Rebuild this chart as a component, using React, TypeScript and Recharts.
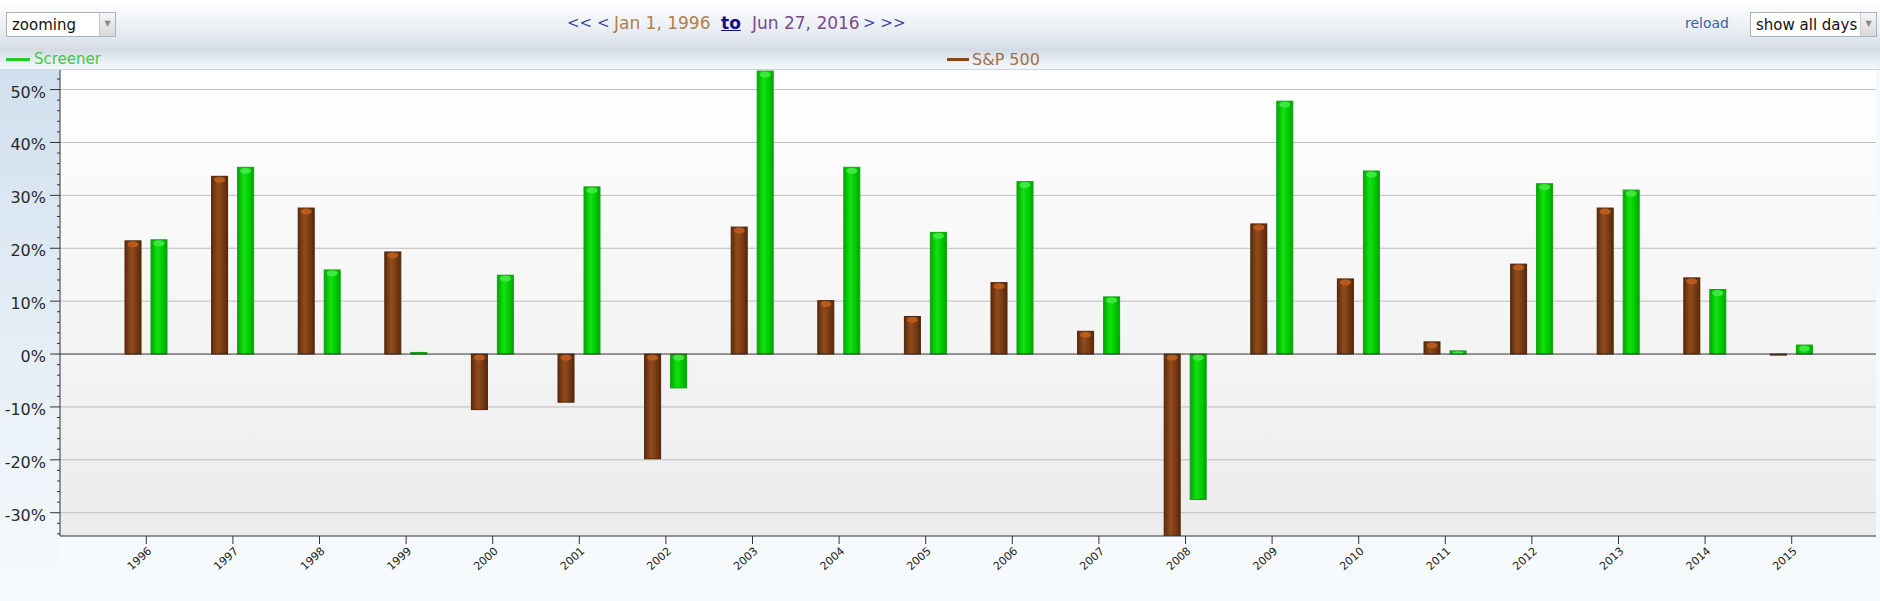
import React from 'react';
import { BarChart, Bar, XAxis, YAxis, CartesianGrid, ReferenceLine } from 'recharts';

// yearly returns in %, read off the screenshot
const years = ['1996', '1997', '1998', '1999', '2000', '2001', '2002', '2003', '2004', '2005',
  '2006', '2007', '2008', '2009', '2010', '2011', '2012', '2013', '2014', '2015'];
const sp500 = [21.4, 33.6, 27.6, 19.3, -10.5, -9.1, -19.8, 24.0, 10.1, 7.1,
  13.5, 4.3, -38.5, 24.6, 14.2, 2.3, 17.0, 27.6, 14.4, -0.2];
const screener = [21.6, 35.3, 15.9, 0.3, 14.9, 31.6, -6.4, 53.5, 35.3, 23.0,
  32.6, 10.8, -27.5, 47.8, 34.6, 0.6, 32.2, 31.0, 12.2, 1.7];

const yTicks = [-34, -32, -30, -28, -26, -24, -22, -20, -18, -16, -14, -12, -10, -8, -6, -4, -2,
  0, 2, 4, 6, 8, 10, 12, 14, 16, 18, 20, 22, 24, 26, 28, 30, 32, 34, 36, 38, 40, 42, 44, 46, 48, 50, 52];
const gridValues = [-30, -20, -10, 10, 20, 30, 40, 50];
const yDomain = [-34.4, 53.7];

const data = years.map((year, i) => ({ year, sp500: sp500[i], screener: screener[i] }));

const FONT = '"DejaVu Sans", Verdana, sans-serif';

const YTick = (props: any) => {
  const { x, y, payload } = props;
  const v = payload.value;
  const major = v % 10 === 0;
  return (
    <g>
      <line x1={x - (major ? 10 : 3)} x2={x} y1={y} y2={y} stroke="#333" />
      {major && (
        <text x={x - 14} y={y} dy={8} textAnchor="end" fontSize={16} fill="#2a2a2a" fontFamily={FONT}>
          {v}%
        </text>
      )}
    </g>
  );
};

const XTick = (props: any) => {
  const { x, y, payload } = props;
  const tx = x + 6;
  const ty = y + 8;
  return (
    <text x={tx} y={ty} transform={`rotate(-42 ${tx} ${ty})`} textAnchor="end" fontSize={11} fill="#222" fontFamily={FONT}>
      {payload.value}
    </text>
  );
};

const cylinder = (id: string, edge: string, cap: string) => (props: any) => {
  const { x, y, width, height } = props;
  if (width == null || height == null) return <g />;
  const top = height < 0 ? y + height : y;
  const h = Math.abs(height);
  const ry = Math.min(3, h / 2);
  return (
    <g>
      <rect x={x} y={top} width={width} height={h} fill={`url(#${id})`} stroke={edge} strokeWidth={1} />
      {h > 2 && <ellipse cx={x + width / 2} cy={top + ry + 0.5} rx={width / 2 - 2.5} ry={ry} fill={cap} />}
    </g>
  );
};

const brownBar = cylinder('brownBody', '#4e2408', '#b85a1c');
const greenBar = cylinder('greenBody', '#12a012', '#3ee83e');

const Select = ({ left, width, label }: { left: number; width: number; label: string }) => (
  <div style={{
    position: 'absolute', left, top: 12, width, height: 25, boxSizing: 'border-box',
    border: '1px solid #a9b3bd', background: '#fff', fontFamily: FONT, fontSize: 15, color: '#111',
  }}>
    <span style={{ position: 'absolute', left: 5, top: 3 }}>{label}</span>
    <div style={{
      position: 'absolute', right: 0, top: 0, width: 15, height: 23, borderLeft: '1px solid #c8cdd2',
      background: 'linear-gradient(#f6f6f6, #d8d8d8)', color: '#8a8a8a', fontSize: 8, textAlign: 'center', lineHeight: '22px',
    }}>▼</div>
  </div>
);

export default function App() {
  return (
    <div style={{ position: 'absolute', left: 0, top: 0, width: 1880, height: 601, overflow: 'hidden',
      background: 'linear-gradient(#ffffff 0px, #e9eef3 30px, #d3dce5 50px, #eaf0f5 62px, #f4f8fb 70px, #f7fafc 100%)' }}>
      {/* left axis column */}
      <div style={{ position: 'absolute', left: 0, top: 70, width: 60, height: 531,
        background: 'linear-gradient(#d1e0ee, #e8f0f7 60%, #f7fafd)' }} />
      <div style={{ position: 'absolute', left: 0, top: 69, width: 1880, height: 1, background: '#c9d5df' }} />

      {/* header */}
      <Select left={6} width={110} label="zooming" />
      <div style={{ position: 'absolute', top: 13, left: 0, fontFamily: FONT, fontSize: 15, whiteSpace: 'nowrap' }}>
        <span style={{ position: 'absolute', left: 567, top: 1, color: '#3a4aa8' }}>&lt;&lt; &lt;</span>
        <span style={{ position: 'absolute', left: 614, color: '#b0804a', fontSize: 17 }}>Jan 1, 1996</span>
        <span style={{ position: 'absolute', left: 721, color: '#10108a', fontWeight: 'bold', fontSize: 17, textDecoration: 'underline' }}>to</span>
        <span style={{ position: 'absolute', left: 752, color: '#7a4a8a', fontSize: 17 }}>Jun 27, 2016</span>
        <span style={{ position: 'absolute', left: 863, top: 1, color: '#3a4aa8' }}>&gt; &gt;&gt;</span>
        <span style={{ position: 'absolute', left: 1685, color: '#3464a8', fontSize: 14, top: 2 }}>reload</span>
      </div>
      <Select left={1750} width={127} label="show all days" />

      {/* legend */}
      <div style={{ position: 'absolute', top: 50, left: 0, fontFamily: FONT, fontSize: 15, whiteSpace: 'nowrap' }}>
        <div style={{ position: 'absolute', left: 6, top: 8, width: 24, height: 3, background: '#22cc22' }} />
        <span style={{ position: 'absolute', left: 34, color: '#3ccc3c' }}>Screener</span>
        <div style={{ position: 'absolute', left: 947, top: 8, width: 22, height: 3, background: '#8b4513' }} />
        <span style={{ position: 'absolute', left: 972, color: '#a0704a', fontSize: 16 }}>S&amp;P 500</span>
      </div>

      <div style={{ position: 'absolute', left: 0, top: 0 }}>
        <BarChart width={1880} height={601} data={data} margin={{ top: 70, right: 4, bottom: 0, left: 0 }} barGap={10}>
          <defs>
            <linearGradient id="plotBg" x1="0" y1="0" x2="0" y2="1">
              <stop offset="0%" stopColor="#ffffff" />
              <stop offset="100%" stopColor="#ececec" />
            </linearGradient>
            <linearGradient id="brownBody" x1="0" y1="0" x2="1" y2="0">
              <stop offset="0%" stopColor="#5e2c0c" />
              <stop offset="40%" stopColor="#904c1e" />
              <stop offset="65%" stopColor="#7e3e14" />
              <stop offset="100%" stopColor="#58280a" />
            </linearGradient>
            <linearGradient id="greenBody" x1="0" y1="0" x2="1" y2="0">
              <stop offset="0%" stopColor="#00a800" />
              <stop offset="40%" stopColor="#12e212" />
              <stop offset="70%" stopColor="#00cc00" />
              <stop offset="100%" stopColor="#00a400" />
            </linearGradient>
          </defs>
          <CartesianGrid vertical={false} horizontalValues={gridValues} stroke="#bdbdbd" fill="url(#plotBg)" fillOpacity={1} />
          <XAxis
            dataKey="year"
            height={65}
            padding={{ left: 43, right: 41 }}
            axisLine={{ stroke: '#333' }}
            tickLine={{ stroke: '#333' }}
            tickSize={8}
            tickMargin={0}
            tick={<XTick />}
            interval={0}
          />
          <YAxis
            width={60}
            domain={yDomain}
            allowDataOverflow
            ticks={yTicks}
            interval={0}
            axisLine={{ stroke: '#333' }}
            tickLine={false}
            tickSize={0}
            tickMargin={0}
            tick={<YTick />}
          />
          <ReferenceLine y={0} stroke="#333" />
          <Bar dataKey="sp500" name="S&P 500" barSize={16} shape={brownBar} isAnimationActive={false} />
          <Bar dataKey="screener" name="Screener" barSize={16} shape={greenBar} isAnimationActive={false} />
        </BarChart>
      </div>
    </div>
  );
}
